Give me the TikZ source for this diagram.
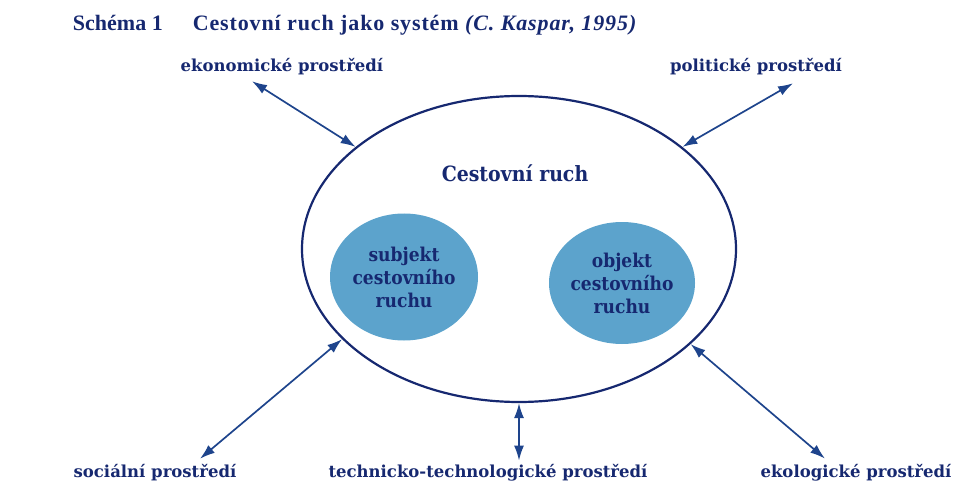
\documentclass[tikz,border=0pt]{standalone}
\usepackage{fontspec}
\setmainfont{Liberation Serif}
\newfontfamily\schoolfont{DejaVu Serif}[FakeStretch=0.9]
\newfontfamily\labelfont{DejaVu Serif}
\usetikzlibrary{shapes.geometric,arrows.meta}
\definecolor{navy}{RGB}{22,40,112}
\definecolor{arrowblue}{RGB}{30,68,140}
\definecolor{speckle}{RGB}{92,163,204}
\tikzset{
  envlabel/.style={inner sep=0.75pt, text=navy, font=\fontsize{16.5}{19}\labelfont\bfseries},
  blob/.style={ellipse, fill=speckle, inner sep=0pt, align=center, text=navy, font=\fontsize{19}{23}\schoolfont\bfseries},
  link/.style={draw=arrowblue, line width=1.7pt, {Latex[length=15pt,width=10pt]}-{Latex[length=15pt,width=10pt]}}
}
\begin{document}
\begin{tikzpicture}[x=1pt,y=-1pt]
    \useasboundingbox (0,0) rectangle (974,497);

    % Title
    \draw (72,25) node [anchor=west] [inner sep=0.75pt] [text=navy, font=\fontsize{22}{26}\selectfont\bfseries] (title) {Schéma 1\hspace{30pt}{\addfontfeatures{LetterSpace=4}Cestovní ruch jako systém \textit{(C. Kaspar, 1995)}}};

    %Shape: Ellipse [system]
    \node [ellipse, draw=navy, line width=2.2pt, minimum width=434pt, minimum height=306pt] (system) at (519,249) {};
    % Text Node
    \draw (515,173) node [inner sep=0.75pt] [text=navy, font=\fontsize{21}{24}\schoolfont\bfseries] (cr) {Cestovní ruch};

    %Shape: Circle [subjekt]
    \node [blob, minimum width=148pt, minimum height=127pt] (subj) at (404,277) {subjekt\\cestovního\\ruchu};
    %Shape: Circle [objekt]
    \node [blob, minimum width=146pt, minimum height=122pt] (obj) at (622,283) {objekt\\cestovního\\ruchu};

    % Text Node
    \draw (282,67) node [envlabel] (ekon) {ekonomické prostředí};
    % Text Node
    \draw (756,67) node [envlabel] (polit) {politické prostředí};
    % Text Node
    \draw (155,473) node [envlabel] (soc) {sociální prostředí};
    % Text Node
    \draw (488,473) node [envlabel] (tech) {technicko-technologické prostředí};
    % Text Node
    \draw (856,473) node [envlabel] (ekol) {ekologické prostředí};

    % Arrows
    \draw [link] ([xshift=-30pt,yshift=-5pt]ekon.south) -- (system.148.6);
    \draw [link] ([xshift=37pt,yshift=-7pt]polit.south) -- (system.32.9);
    \draw [link] ([xshift=45pt,yshift=5pt]soc.north) -- (system.207);
    \draw [link] ([xshift=31pt,yshift=3pt]tech.north) -- (system.270);
    \draw [link] ([xshift=-31pt,yshift=5pt]ekol.north) -- (system.331.7);

\end{tikzpicture}
\end{document}
